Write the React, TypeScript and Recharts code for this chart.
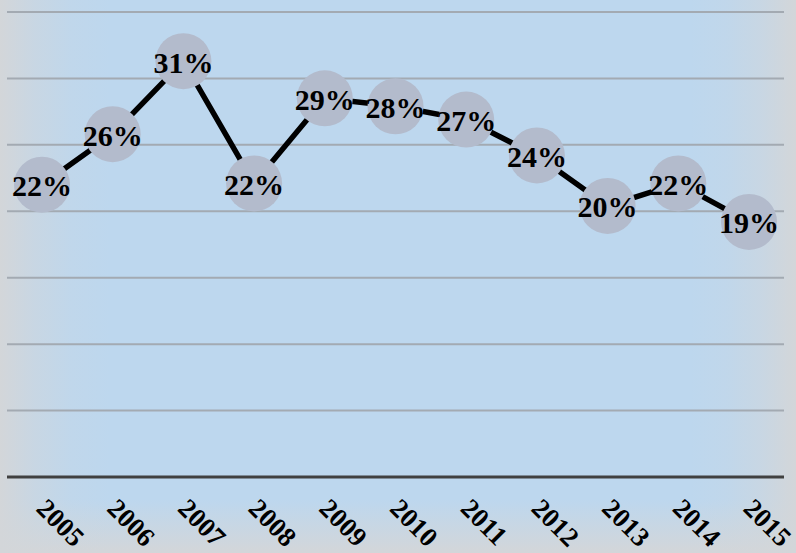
import React from "react";
import { LineChart, Line, XAxis, YAxis, CartesianGrid, LabelList } from "recharts";

const years = ["2005", "2006", "2007", "2008", "2009", "2010", "2011", "2012", "2013", "2014", "2015"];
const shares = [22.0, 25.8, 31.3, 22.1, 28.5, 27.9, 26.9, 24.2, 20.4, 22.1, 19.2];
const yTicks = [0, 5, 10, 15, 20, 25, 30, 35];

const data = years.map((year, i) => ({ year, share: shares[i] }));

const FONT = "Liberation Serif";

const Dot = (props: any) => {
  const { cx, cy } = props;
  if (cx == null || cy == null) return null;
  return <circle cx={cx} cy={cy} r={28} fill="#b3bbcc" stroke="none" />;
};

const Label = (props: any) => {
  const { x, y, value } = props;
  return (
    <text
      x={x}
      y={y + 1}
      textAnchor="middle"
      dominantBaseline="central"
      style={{ fontFamily: FONT, fontWeight: 700, fontSize: 30 }}
      fill="#000"
    >
      {Math.round(value)}%
    </text>
  );
};

const Tick = (props: any) => {
  const { x, y, payload } = props;
  const tx = x - 7;
  const ty = y + 33;
  return (
    <text
      x={tx}
      y={ty}
      transform={`rotate(45, ${tx}, ${ty})`}
      textAnchor="start"
      style={{ fontFamily: FONT, fontWeight: 700, fontSize: 27 }}
      fill="#000"
    >
      {payload.value}
    </text>
  );
};

export default function App() {
  const bg = [
    "linear-gradient(to right, rgba(211,214,217,1) 0px, rgba(211,214,217,0.5) 35px, rgba(211,214,217,0.15) 70px, rgba(211,214,217,0) 110px, rgba(211,214,217,0) 690px, rgba(211,214,217,0.15) 726px, rgba(211,214,217,0.5) 761px, rgba(211,214,217,1) 796px)",
    "linear-gradient(to bottom, rgba(211,214,217,0) 0px, rgba(211,214,217,0) 500px, rgba(211,214,217,1) 553px)",
    "#bdd7ee",
  ].join(", ");
  return (
    <div style={{ position: "absolute", left: 0, top: 0, width: 796, height: 553, background: bg }}>
      <LineChart
        width={796}
        height={553}
        data={data}
        margin={{ top: 12, right: 12, left: 7, bottom: 0 }}
      >
        <CartesianGrid vertical={false} stroke="#a3aab2" strokeWidth={2} />
        <YAxis hide domain={[0, 35]} ticks={yTicks} />
        <XAxis
          dataKey="year"
          height={76}
          padding={{ left: 35, right: 35 }}
          axisLine={{ stroke: "#404040", strokeWidth: 3 }}
          tickLine={false}
          tickSize={0}
          tickMargin={0}
          interval={0}
          tick={<Tick />}
        />
        <Line
          type="linear"
          dataKey="share"
          stroke="#000"
          strokeWidth={5.5}
          dot={<Dot />}
          activeDot={false}
          isAnimationActive={false}
        >
          <LabelList dataKey="share" content={<Label />} />
        </Line>
      </LineChart>
    </div>
  );
}
